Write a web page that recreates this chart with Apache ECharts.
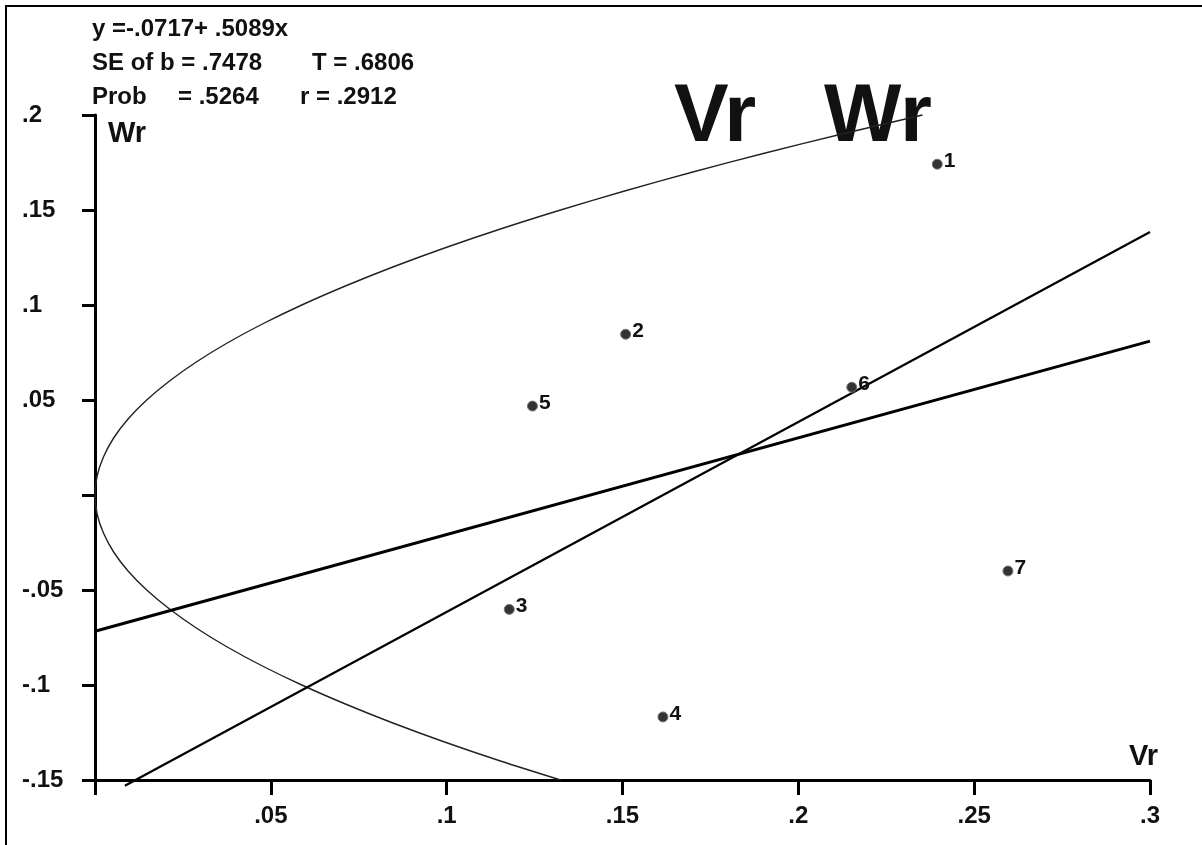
<!DOCTYPE html>
<html>
<head>
<meta charset="utf-8">
<script src="https://cdn.jsdelivr.net/npm/echarts@6/dist/echarts.min.js"></script>
<style>
html,body{margin:0;padding:0;background:#fff;}
#chart{width:1202px;height:845px;}
</style>
</head>
<body>
<div id="chart"></div>
<script>
// ---- data ----
const pointNames = ['1', '2', '3', '4', '5', '6', '7'];
const pointVr = [0.2395, 0.1509, 0.1178, 0.1615, 0.1244, 0.2152, 0.2596];
const pointWr = [0.1741, 0.0846, -0.0602, -0.1168, 0.0468, 0.0567, -0.0400];

// regression line (from printed coefficients)
const regIntercept = -0.0717;
const regSlope = 0.5089;
const regRangeVr = [0, 0.3];

// unit-slope line endpoints (read)
const unitLineVr = [0.0085, 0.3];
const unitLineWr = [-0.153, 0.1384];

// limiting parabola, points
const parabolaWr = [0.20, 0.19, 0.18, 0.17, 0.16, 0.15, 0.14, 0.13, 0.12, 0.11, 0.10, 0.09, 0.08, 0.07, 0.06, 0.05, 0.04, 0.03, 0.02, 0.01, 0,
                    -0.01, -0.02, -0.03, -0.04, -0.05, -0.06, -0.07, -0.08, -0.09, -0.10, -0.11, -0.12, -0.13, -0.14, -0.15];
const parabolaVr = [0.2353, 0.2124, 0.1906, 0.1700, 0.1506, 0.1324, 0.1153, 0.0994, 0.0847, 0.0712, 0.0588, 0.0476, 0.0376, 0.0288, 0.0212, 0.0147, 0.0094, 0.0053, 0.0024, 0.0006, 0,
                    0.0006, 0.0024, 0.0053, 0.0094, 0.0147, 0.0212, 0.0288, 0.0376, 0.0476, 0.0588, 0.0712, 0.0847, 0.0994, 0.1153, 0.1324];

// axis ticks and labels
const xTicks = [0, 0.05, 0.1, 0.15, 0.2, 0.25, 0.3];
const xTickLabels = ['', '.05', '.1', '.15', '.2', '.25', '.3'];
const yTicks = [-0.15, -0.1, -0.05, 0, 0.05, 0.1, 0.15, 0.2];
const yTickLabels = ['-.15', '-.1', '-.05', '', '.05', '.1', '.15', '.2'];

const statLines = [
  ['y =-.0717+ .5089x'],
  ['SE of b = .7478', 'T = .6806'],
  ['Prob', '= .5264', 'r = .2912']
];
const bigTitle = ['Vr', 'Wr'];
const xName = 'Vr';
const yName = 'Wr';

// ---- build ----
function labelFor(ticks, labels, v) {
  let best = 0, bd = Infinity;
  ticks.forEach((t, i) => { const d = Math.abs(t - v); if (d < bd) { bd = d; best = i; } });
  return bd < 1e-6 ? labels[best] : '';
}
const FONT = '"Liberation Sans", Arial, Helvetica, sans-serif';

const chart = echarts.init(document.getElementById('chart'), null, {renderer: 'canvas'});

const scatterData = pointVr.map((v, i) => ({value: [v, pointWr[i]], name: pointNames[i]}));
const regData = regRangeVr.map(x => [x, regIntercept + regSlope * x]);
const unitData = unitLineVr.map((x, i) => [x, unitLineWr[i]]);
const parabolaData = parabolaVr.map((x, i) => [x, parabolaWr[i]]);

const textBase = {fill: '#111', fontFamily: FONT, fontWeight: 'bold', fontSize: 24, verticalAlign: 'middle', align: 'left'};

const option = {
  backgroundColor: '#fff',
  animation: false,
  grid: {left: 95, right: 52, top: 115, bottom: 65, outerBoundsMode: 'none', containLabel: false},
  xAxis: {
    type: 'value', min: 0, max: 0.3, interval: 0.05,
    axisLine: {show: true, onZero: false, lineStyle: {color: '#000', width: 3}},
    axisTick: {show: true, inside: false, length: 15, lineStyle: {color: '#000', width: 3}},
    splitLine: {show: false},
    axisLabel: {
      margin: 24, color: '#111', fontFamily: FONT, fontWeight: 'bold', fontSize: 24,
      showMinLabel: true, showMaxLabel: true,
      formatter: v => labelFor(xTicks, xTickLabels, v)
    }
  },
  yAxis: {
    type: 'value', min: -0.15, max: 0.2, interval: 0.05,
    axisLine: {show: true, onZero: false, lineStyle: {color: '#000', width: 3}},
    axisTick: {show: true, inside: false, length: 13, lineStyle: {color: '#000', width: 3}},
    splitLine: {show: false},
    axisLabel: {
      margin: 73, align: 'left', color: '#111', fontFamily: FONT, fontWeight: 'bold', fontSize: 24,
      showMinLabel: true, showMaxLabel: true,
      formatter: v => labelFor(yTicks, yTickLabels, v)
    }
  },
  series: [
    {
      type: 'line', data: parabolaData, smooth: 0.3, showSymbol: false, clip: false,
      lineStyle: {color: '#222', width: 1.4}, z: 2, silent: true
    },
    {
      type: 'line', data: regData, showSymbol: false, clip: false,
      lineStyle: {color: '#000', width: 3}, z: 3, silent: true
    },
    {
      type: 'line', data: unitData, showSymbol: false, clip: false,
      lineStyle: {color: '#000', width: 2.2}, z: 3, silent: true
    },
    {
      type: 'scatter', data: scatterData, symbol: 'circle', symbolSize: 10,
      itemStyle: {color: '#333', borderColor: '#777', borderWidth: 1, opacity: 1},
      label: {
        show: true, position: 'right', distance: 1, offset: [0, -3],
        formatter: p => p.name,
        color: '#111', fontFamily: FONT, fontWeight: 'bold', fontSize: 21
      },
      z: 5
    }
  ],
  graphic: [
    {type: 'rect', shape: {x: 6, y: 6, width: 1300, height: 900}, style: {fill: 'none', stroke: '#000', lineWidth: 2}, z: 10, silent: true},
    {type: 'text', x: 92, y: 29, style: Object.assign({}, textBase, {text: statLines[0][0]})},
    {type: 'text', x: 92, y: 63, style: Object.assign({}, textBase, {text: statLines[1][0]})},
    {type: 'text', x: 312, y: 63, style: Object.assign({}, textBase, {text: statLines[1][1]})},
    {type: 'text', x: 92, y: 97, style: Object.assign({}, textBase, {text: statLines[2][0]})},
    {type: 'text', x: 178, y: 97, style: Object.assign({}, textBase, {text: statLines[2][1]})},
    {type: 'text', x: 300, y: 97, style: Object.assign({}, textBase, {text: statLines[2][2]})},
    {type: 'text', x: 108, y: 134, style: Object.assign({}, textBase, {text: yName, fontSize: 29})},
    {type: 'text', x: 1158, y: 757, style: Object.assign({}, textBase, {text: xName, fontSize: 29, align: 'right'})},
    {type: 'text', x: 674, y: 118, z: 1, style: Object.assign({}, textBase, {text: bigTitle[0], fontSize: 82})},
    {type: 'text', x: 824, y: 118, z: 1, style: Object.assign({}, textBase, {text: bigTitle[1], fontSize: 82})}
  ]
};
chart.setOption(option);
</script>
</body>
</html>
